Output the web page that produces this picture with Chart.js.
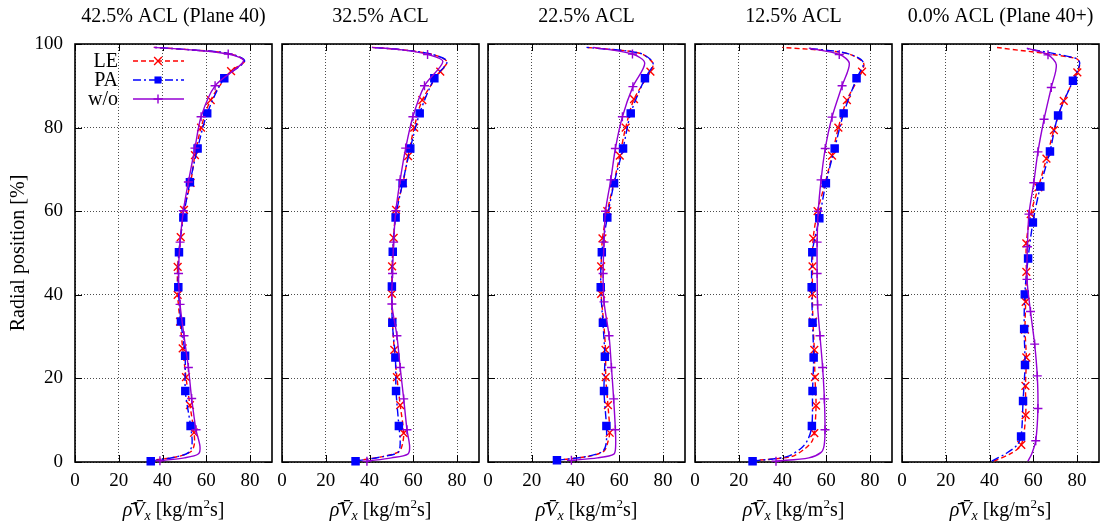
<!DOCTYPE html>
<html>
<head>
<meta charset="utf-8">
<script src="https://cdn.jsdelivr.net/npm/chart.js"></script>
<style>
  html, body { margin: 0; padding: 0; background: #fff; }
  #wrap { position: relative; width: 1109px; height: 525px; overflow: hidden; }
  .panel { position: absolute; top: 0; width: 282px; height: 525px; }
</style>
</head>
<body>
<div id="wrap"></div>
<script>
// --- DATA (value in kg/m2s, radial position in %) ---
const xTicks = [0, 20, 40, 60, 80];
const yTicks = [0, 20, 40, 60, 80, 100];
const titles = ['42.5% ACL (Plane 40)', '32.5% ACL', '22.5% ACL', '12.5% ACL', '0.0% ACL (Plane 40+)'];
const seriesNames = ['LE', 'PA', 'w/o'];

// marker points [value, radial]
const p1LE = [[54.4,7.0],[52.5,13.6],[50.7,20.3],[49.2,27.2],[48.0,33.6],[46.9,40.0],[46.9,46.7],[48.3,53.8],[49.8,60.3],[52.8,66.8],[54.8,73.4],[57.6,80.0],[62.0,86.6],[71.3,93.5]];
const p1PA = [[34.6,0.2],[52.8,8.6],[50.4,17.0],[50.3,25.4],[48.4,33.6],[47.2,41.8],[47.5,50.2],[49.5,58.5],[52.5,66.9],[56.0,75.0],[60.4,83.4],[68.2,91.8]];
const p1WO = [[38.8,0.3],[55.3,7.7],[53.3,15.2],[51.8,22.6],[49.8,30.2],[48.0,37.7],[47.3,45.1],[48.0,52.6],[49.5,60.1],[51.8,67.0],[54.8,75.1],[57.6,82.6],[64.0,90.0],[70.0,97.6]];
// extra curve points without marker (hub and tip)
const p1LEx = [[33.5,0.3],[47.0,1.3],[53.0,2.5],[54.5,4.2],[77.5,95.9],[70.5,97.7],[53.0,98.6],[36.0,99.2]];
const p1PAx = [[46.0,1.2],[52.0,2.3],[53.5,4.5],[77.5,95.9],[70.5,97.7],[53.0,98.6],[36.0,99.2]];
const p1WOx = [[50.0,1.0],[56.3,1.9],[57.1,3.7],[77.0,95.9],[53.0,98.6],[36.0,99.2]];

const p2LE = [[55.6,6.9],[54.0,13.6],[52.5,20.3],[51.3,26.8],[50.5,33.6],[50.2,40.2],[50.3,46.8],[51.0,53.6],[52.1,60.3],[55.3,66.8],[57.6,73.2],[60.4,80.0],[64.1,86.6],[72.3,93.4]];
const p2PA = [[33.6,0.2],[53.4,8.6],[52.1,17.0],[51.8,25.0],[50.4,33.3],[50.2,42.0],[50.6,50.3],[51.9,58.5],[55.1,66.7],[58.6,75.0],[62.9,83.4],[69.6,91.8]];
const p2WO = [[38.8,0.2],[57.1,7.7],[55.6,15.1],[54.0,22.6],[52.5,30.2],[50.2,37.8],[50.5,45.1],[51.0,52.6],[52.0,60.1],[54.0,67.5],[56.5,75.1],[59.8,82.6],[65.1,90.0],[66.5,97.5]];
const p2LEx = [[33.6,0.3],[46.0,1.3],[53.5,2.5],[55.0,4.2],[75.4,95.8],[68.0,97.6],[55.0,98.6],[41.1,99.2]];
const p2PAx = [[46.0,1.3],[53.0,2.3],[54.0,4.5],[75.4,95.8],[68.0,97.6],[55.0,98.6],[41.1,99.2]];
const p2WOx = [[50.0,1.0],[57.5,1.9],[58.3,3.7],[73.5,95.8],[55.0,98.6],[41.1,99.2]];

const p3LE = [[55.6,7.0],[54.8,13.6],[53.8,20.3],[53.7,26.8],[52.8,33.6],[51.7,40.2],[51.7,46.8],[52.3,53.5],[54.5,60.0],[57.5,66.8],[60.2,73.3],[62.9,80.0],[66.7,86.8],[74.2,93.4]];
const p3PA = [[31.5,0.4],[54.1,8.6],[53.0,17.0],[53.4,25.2],[52.5,33.3],[51.5,41.8],[52.0,50.2],[54.5,58.5],[57.6,66.7],[61.7,75.0],[65.2,83.4],[71.7,91.8]];
const p3WO = [[38.1,0.4],[58.2,7.7],[57.4,15.1],[56.4,22.6],[55.3,30.2],[53.0,38.3],[52.6,45.1],[53.0,52.6],[53.7,60.0],[56.1,67.5],[58.2,75.0],[61.4,82.6],[66.2,89.8],[66.0,97.6]];
const p3LEx = [[31.0,0.4],[46.6,1.4],[53.0,2.6],[54.5,4.3],[75.4,95.4],[69.3,97.8],[45.0,99.2]];
const p3PAx = [[46.0,1.4],[52.5,2.6],[54.0,4.5],[75.4,95.4],[69.3,97.8],[45.0,99.2]];
const p3WOx = [[50.0,1.0],[57.5,1.9],[58.3,3.7],[71.6,95.4],[48.0,99.2]];

const p4LE = [[54.5,6.9],[55.3,13.5],[54.8,20.3],[54.5,26.8],[53.9,33.6],[53.6,40.2],[53.7,46.8],[54.0,53.5],[56.0,60.0],[59.5,66.8],[62.6,73.3],[65.5,80.0],[69.4,86.6],[76.3,93.4]];
const p4PA = [[26.3,0.2],[53.4,8.6],[53.7,17.0],[54.2,25.0],[53.7,33.3],[53.3,41.8],[53.6,50.2],[56.8,58.3],[59.8,66.7],[63.8,75.0],[67.9,83.4],[73.8,91.8]];
const p4WO = [[37.0,0.2],[59.4,7.7],[59.1,15.1],[58.3,22.6],[57.1,30.2],[56.0,37.6],[55.8,45.1],[55.8,52.6],[56.3,60.0],[57.6,67.5],[59.5,75.0],[62.6,82.5],[67.2,90.0],[65.9,97.5]];
const p4LEx = [[26.0,0.3],[44.0,1.3],[50.5,3.3],[53.5,5.0],[76.9,95.6],[69.0,97.8],[40.0,99.2]];
const p4PAx = [[42.0,1.3],[48.5,3.3],[51.5,5.3],[76.9,95.6],[69.0,97.8],[51.4,99.0]];
const p4WOx = [[52.0,1.0],[57.6,2.3],[59.0,4.0],[70.5,95.4],[52.0,99.0]];

const p5LE = [[54.5,4.1],[56.5,11.2],[56.4,18.2],[56.8,25.0],[56.2,31.7],[56.5,38.3],[56.8,45.5],[56.8,52.3],[58.8,59.3],[62.3,65.7],[66.0,72.6],[69.4,79.4],[73.9,86.4],[80.1,93.2]];
const p5PA = [[54.4,6.1],[55.3,14.6],[56.2,23.2],[55.8,31.8],[56.1,40.1],[57.6,48.7],[59.8,57.3],[63.2,65.9],[67.6,74.3],[71.3,82.9],[78.1,91.2]];
const p5WO = [[61.1,5.1],[62.1,12.8],[61.8,20.6],[60.6,28.2],[58.7,36.0],[57.1,43.7],[57.3,51.5],[58.0,59.3],[60.2,66.8],[62.1,74.2],[64.9,82.0],[68.2,89.6],[66.7,97.4]];
const p5LEx = [[42.0,0.2],[50.0,2.1],[81.2,95.4],[79.3,96.6],[43.1,99.2]];
const p5PAx = [[41.0,0.2],[47.7,2.1],[52.5,4.0],[81.2,95.4],[79.3,96.6],[56.0,99.0]];
const p5WOx = [[57.5,0.2],[59.3,2.0],[70.5,95.0],[57.0,99.0]];

const panels = [
    [[p1LE, p1LEx], [p1PA, p1PAx], [p1WO, p1WOx]],
    [[p2LE, p2LEx], [p2PA, p2PAx], [p2WO, p2WOx]],
    [[p3LE, p3LEx], [p3PA, p3PAx], [p3WO, p3WOx]],
    [[p4LE, p4LEx], [p4PA, p4PAx], [p4WO, p4WOx]],
    [[p5LE, p5LEx], [p5PA, p5PAx], [p5WO, p5WOx]]
];

// --- LAYOUT / STYLE ---
const plotLeft = [75, 282, 488, 695, 902];
const FONT = '"Liberation Serif", "DejaVu Serif", serif';
const styles = [
    { color: '#ff0000', dash: [5, 3], point: 'crossRot', radius: 5.5, fill: false, order: 2 },
    { color: '#0000ff', dash: [8, 3, 2, 3], point: 'rect', radius: 5, fill: true, order: 1 },
    { color: '#9400d3', dash: [], point: 'cross', radius: 4.5, fill: false, order: 0 }
];

function buildCurve(marks, extras) {
    const pts = marks.map(p => ({ x: p[0], y: p[1], m: true }))
        .concat(extras.map(p => ({ x: p[0], y: p[1], m: false })));
    return pts.sort((a, b) => a.y - b.y);
}

function marker(ctx, st, x, y) {
    ctx.save();
    ctx.setLineDash([]);
    ctx.strokeStyle = st.color;
    ctx.fillStyle = st.color;
    ctx.lineWidth = 1.4;
    ctx.beginPath();
    if (st.point === 'rect') {
        const s = st.radius * Math.SQRT1_2;
        ctx.fillRect(x - s, y - s, 2 * s, 2 * s);
    } else if (st.point === 'cross') {
        ctx.moveTo(x - st.radius, y); ctx.lineTo(x + st.radius, y);
        ctx.moveTo(x, y - st.radius); ctx.lineTo(x, y + st.radius);
        ctx.stroke();
    } else {
        const s = st.radius * Math.SQRT1_2;
        ctx.moveTo(x - s, y - s); ctx.lineTo(x + s, y + s);
        ctx.moveTo(x - s, y + s); ctx.lineTo(x + s, y - s);
        ctx.stroke();
    }
    ctx.restore();
}

function drawXLabel(ctx, cx, baseY) {
    const parts = [
        { t: 'ρ\u0304V\u0304', f: 'italic 20px ' + FONT, dy: 0 },
        { t: 'x', f: 'italic 14px ' + FONT, dy: 4 },
        { t: ' [kg/m', f: '20px ' + FONT, dy: 0 },
        { t: '2', f: '13px ' + FONT, dy: -8 },
        { t: 's]', f: '20px ' + FONT, dy: 0 }
    ];
    let total = 0;
    parts.forEach(p => { ctx.font = p.f; p.w = ctx.measureText(p.t).width; total += p.w; });
    let x = cx - total / 2;
    ctx.fillStyle = '#000';
    ctx.textBaseline = 'alphabetic';
    ctx.textAlign = 'left';
    parts.forEach(p => { ctx.font = p.f; ctx.fillText(p.t, x, baseY + p.dy); x += p.w; });
}

function panelPlugin(idx) {
    return {
        id: 'panelDeco' + idx,
        beforeDatasetsDraw(chart) {
            const { ctx, chartArea: a, scales: { x, y } } = chart;
            ctx.save();
            ctx.setLineDash([]);
            ctx.strokeStyle = '#000';
            ctx.lineWidth = 1;
            ctx.beginPath();
            xTicks.forEach(v => {
                const px = Math.round(x.getPixelForValue(v)) + 0.5;
                ctx.moveTo(px, a.bottom); ctx.lineTo(px, a.bottom - 7);
                ctx.moveTo(px, a.top); ctx.lineTo(px, a.top + 7);
            });
            yTicks.forEach(v => {
                const py = Math.round(y.getPixelForValue(v)) + 0.5;
                ctx.moveTo(a.left, py); ctx.lineTo(a.left + 7, py);
                ctx.moveTo(a.right, py); ctx.lineTo(a.right - 7, py);
            });
            ctx.stroke();
            ctx.lineWidth = 1.6;
            ctx.strokeRect(a.left, a.top, a.right - a.left, a.bottom - a.top);
            ctx.restore();
        },
        afterDraw(chart) {
            const { ctx, chartArea: a } = chart;
            const cx = (a.left + a.right) / 2;
            ctx.save();
            ctx.fillStyle = '#000';
            ctx.font = '20px ' + FONT;
            ctx.textAlign = 'center';
            ctx.textBaseline = 'middle';
            ctx.fillText(titles[idx], cx, 17);
            drawXLabel(ctx, cx, 516);

            if (idx === 0) {
                // key in the top-left corner
                ctx.font = '20px ' + FONT;
                ctx.textAlign = 'right';
                ctx.textBaseline = 'middle';
                seriesNames.forEach((name, k) => {
                    const st = styles[k];
                    const ly = 61 + k * 19;
                    ctx.fillStyle = '#000';
                    ctx.fillText(name, 118, ly + 1);
                    ctx.strokeStyle = st.color;
                    ctx.lineWidth = 1.4;
                    ctx.setLineDash(st.dash);
                    ctx.beginPath();
                    ctx.moveTo(133, ly); ctx.lineTo(184, ly);
                    ctx.stroke();
                    marker(ctx, st, 158, ly);
                });
            }
            ctx.restore();
        }
    };
}

const wrap = document.getElementById('wrap');
window.panelCharts = [];

panels.forEach((series, i) => {
    const div = document.createElement('div');
    div.className = 'panel';
    div.style.left = (plotLeft[i] - 75) + 'px';
    const canvas = document.createElement('canvas');
    canvas.width = 282;
    canvas.height = 525;
    div.appendChild(canvas);
    wrap.appendChild(div);

    const datasets = series.map((s, k) => {
        const st = styles[k];
        return {
            label: seriesNames[k],
            data: buildCurve(s[0], s[1]),
            showLine: true,
            borderColor: st.color,
            borderWidth: 1.4,
            borderDash: st.dash,
            tension: 0.3,
            pointStyle: st.point,
            pointRadius: c => (c.raw && c.raw.m ? st.radius : 0),
            pointBorderColor: st.color,
            pointBackgroundColor: st.fill ? st.color : 'rgba(0,0,0,0)',
            pointBorderWidth: 1.4,
            clip: false,
            order: st.order
        };
    });

    window.panelCharts.push(new Chart(canvas, {
        type: 'scatter',
        data: { datasets: datasets },
        options: {
            responsive: false,
            animation: false,
            events: [],
            devicePixelRatio: 1,
            layout: { padding: { top: 44, right: 10, left: 0, bottom: 0 } },
            plugins: { legend: { display: false }, tooltip: { enabled: false } },
            scales: {
                x: {
                    type: 'linear', min: 0, max: 90,
                    afterBuildTicks: s => { s.ticks = xTicks.map(v => ({ value: v })); },
                    afterFit: s => { s.height = 63; },
                    grid: { color: 'rgba(0,0,0,0.7)', lineWidth: 1, drawTicks: false },
                    border: { display: false, dash: [1, 2] },
                    ticks: { color: '#000', padding: 8, font: { family: FONT, size: 19 } }
                },
                y: {
                    type: 'linear', min: 0, max: 100,
                    afterBuildTicks: s => { s.ticks = yTicks.map(v => ({ value: v })); },
                    afterFit: s => { s.width = 75; },
                    grid: { color: 'rgba(0,0,0,0.7)', lineWidth: 1, drawTicks: false },
                    border: { display: false, dash: [1, 2] },
                    ticks: { display: i === 0, color: '#000', padding: 12, font: { family: FONT, size: 19 } },
                    title: {
                        display: i === 0, text: 'Radial position [%]', color: '#000',
                        padding: { top: 7, bottom: 0 }, font: { family: FONT, size: 20 }
                    }
                }
            }
        },
        plugins: [panelPlugin(i)]
    }));
});
</script>
</body>
</html>
